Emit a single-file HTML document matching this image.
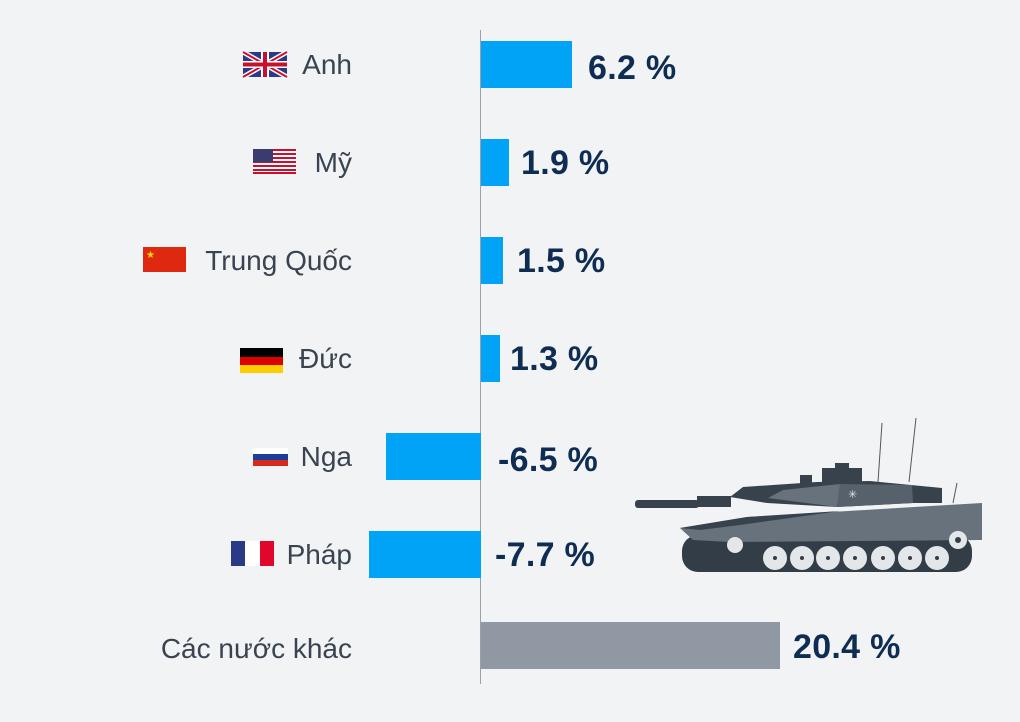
<!DOCTYPE html>
<html><head><meta charset="utf-8"><style>
html,body{margin:0;padding:0;background:#f1f3f5;}
body{width:1020px;height:722px;position:relative;overflow:hidden;font-family:"Liberation Sans",sans-serif;}
.l{position:absolute;right:668px;font-size:28px;color:#3a4450;line-height:32px;}
.v{position:absolute;font-size:34px;font-weight:bold;color:#0f2d52;line-height:36px;letter-spacing:0.3px;}
.b{position:absolute;background:#00a3f5;height:47px;}
</style></head><body>
<div style="position:absolute;left:480px;top:30px;width:1px;height:654px;background:#9aa1a8"></div>
<div class="b" style="left:481px;top:41px;width:91px"></div>
<div class="b" style="left:481px;top:139px;width:28px"></div>
<div class="b" style="left:481px;top:237px;width:22px"></div>
<div class="b" style="left:481px;top:335px;width:19px"></div>
<div class="b" style="left:386px;top:433px;width:95px"></div>
<div class="b" style="left:369px;top:531px;width:112px"></div>
<div class="b" style="left:481px;top:622px;width:299px;background:#9098a3"></div>

<div class="l" style="top:49px">Anh</div>
<div class="l" style="top:147px">Mỹ</div>
<div class="l" style="top:245px">Trung Quốc</div>
<div class="l" style="top:343px">Đức</div>
<div class="l" style="top:441px">Nga</div>
<div class="l" style="top:539px">Pháp</div>
<div class="l" style="top:633px">Các nước khác</div>

<div class="v" style="left:588px;top:50px">6.2 %</div>
<div class="v" style="left:521px;top:145px">1.9 %</div>
<div class="v" style="left:517px;top:243px">1.5 %</div>
<div class="v" style="left:510px;top:341px">1.3 %</div>
<div class="v" style="left:498px;top:442px">-6.5 %</div>
<div class="v" style="left:495px;top:537px">-7.7 %</div>
<div class="v" style="left:793px;top:629px">20.4 %</div>

<svg width="1020" height="722" style="position:absolute;left:0;top:0">
<rect x="243" y="52" width="44" height="25" fill="#2b3a86"/>
<path d="M243,52L287,77M287,52L243,77" stroke="#fff" stroke-width="5"/>
<path d="M243,52L287,77M287,52L243,77" stroke="#c8102e" stroke-width="2"/>
<rect x="261" y="52" width="8" height="25" fill="#fff"/><rect x="243" y="61" width="44" height="7" fill="#fff"/>
<rect x="263" y="52" width="4" height="25" fill="#c8102e"/><rect x="243" y="62.5" width="44" height="4" fill="#c8102e"/>
<rect x="253" y="149" width="43" height="25" fill="#fff"/>
<g fill="#c8102e"><rect x="253" y="149" width="43" height="2"/><rect x="253" y="153" width="43" height="2"/><rect x="253" y="157" width="43" height="2"/><rect x="253" y="161" width="43" height="2"/><rect x="253" y="165" width="43" height="2"/><rect x="253" y="169" width="43" height="2"/><rect x="253" y="172" width="43" height="2"/></g>
<rect x="253" y="149" width="20" height="13" fill="#3c3b6e"/>
<rect x="143" y="247" width="43" height="25" fill="#de2910"/>
<text x="146" y="258" fill="#ffde00" font-size="10">★</text>
<rect x="240" y="348" width="43" height="9" fill="#000"/><rect x="240" y="357" width="43" height="8" fill="#dd0000"/><rect x="240" y="365" width="43" height="8" fill="#ffce00"/>
<rect x="253" y="448" width="35" height="6" fill="#fff"/><rect x="253" y="454" width="35" height="6" fill="#1c3f9c"/><rect x="253" y="460" width="35" height="6" fill="#d52b1e"/>
<rect x="231" y="541" width="14" height="25" fill="#2b3a86"/><rect x="245" y="541" width="15" height="25" fill="#fff"/><rect x="260" y="541" width="14" height="25" fill="#e1062c"/>
<g>
<line x1="882" y1="423" x2="878" y2="482" stroke="#555" stroke-width="1"/>
<line x1="916" y1="418" x2="909" y2="482" stroke="#555" stroke-width="1"/>
<line x1="957" y1="483" x2="953" y2="503" stroke="#555" stroke-width="1"/>
<rect x="682" y="535" width="290" height="37" rx="16" fill="#333d47"/>
<polygon points="680,528 747,517 982,503 982,540 730,542 693,540" fill="#67727c"/>
<polygon points="680,528 747,517 840,511 740,525 700,530" fill="#37424d"/>
<rect x="635" y="500" width="64" height="8" rx="3" fill="#37424d"/>
<rect x="697" y="496" width="34" height="11" fill="#37424d"/>
<polygon points="730,497 743,487 817,482 870,481 942,488 942,503 913,503 837,507 767,503" fill="#37424d"/>
<polygon points="768,498 783,490 840,484 837,507" fill="#67727c"/>
<polygon points="840,484 912,485 913,503 837,507" fill="#56616b"/>
<rect x="822" y="468" width="40" height="14" fill="#37424d"/><rect x="835" y="463" width="14" height="6" fill="#37424d"/>
<rect x="800" y="475" width="12" height="10" fill="#37424d"/>
<text x="848" y="498" fill="#dfe3e6" font-size="11">✳</text>
<g fill="#e4e7ea">
<circle cx="735" cy="545" r="8"/>
<circle cx="775" cy="558" r="12"/><circle cx="802" cy="558" r="12"/><circle cx="828" cy="558" r="12"/><circle cx="855" cy="558" r="12"/><circle cx="883" cy="558" r="12"/><circle cx="910" cy="558" r="12"/><circle cx="937" cy="558" r="12"/>
<circle cx="958" cy="540" r="9"/>
</g>
<g fill="#333d47"><circle cx="775" cy="558" r="2"/><circle cx="802" cy="558" r="2"/><circle cx="828" cy="558" r="2"/><circle cx="855" cy="558" r="2"/><circle cx="883" cy="558" r="2"/><circle cx="910" cy="558" r="2"/><circle cx="937" cy="558" r="2"/><circle cx="958" cy="540" r="3"/></g>
</g>
</svg>
</body></html>
